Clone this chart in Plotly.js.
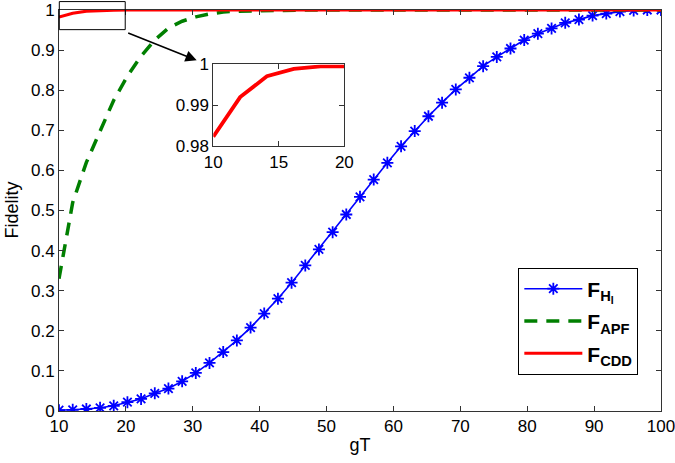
<!DOCTYPE html>
<html>
<head>
<meta charset="utf-8">
<script src="https://cdn.plot.ly/plotly-3.0.1.min.js"></script>
<style>html,body{margin:0;padding:0;background:#fff;}#chart{width:675px;height:463px;}</style>
</head>
<body>
<div id="chart"></div>
<script>
// gT grid (45 points from 10 to 100)
const gT = [10, 12.05, 14.09, 16.14, 18.18, 20.23, 22.27, 24.32, 26.36, 28.41,
  30.45, 32.5, 34.55, 36.59, 38.64, 40.68, 42.73, 44.77, 46.82, 48.86,
  50.91, 52.95, 55, 57.05, 59.09, 61.14, 63.18, 65.23, 67.27, 69.32,
  71.36, 73.41, 75.45, 77.5, 79.55, 81.59, 83.64, 85.68, 87.73, 89.77,
  91.82, 93.86, 95.91, 97.95, 100];

const F_HI = [0.002, 0.003, 0.005, 0.008, 0.013, 0.022, 0.030, 0.044, 0.056, 0.074,
  0.095, 0.12, 0.147, 0.176, 0.208, 0.243, 0.28, 0.32, 0.363, 0.403,
  0.446, 0.49, 0.534, 0.577, 0.619, 0.66, 0.698, 0.735, 0.769, 0.802,
  0.831, 0.86, 0.883, 0.904, 0.925, 0.941, 0.954, 0.968, 0.976, 0.986,
  0.991, 0.996, 0.999, 1.0, 1.0];

const F_APF = [0.33, 0.52, 0.62, 0.70, 0.775, 0.835, 0.885, 0.925, 0.955, 0.972,
  0.983, 0.99, 0.995, 0.997, 0.998, 0.999, 0.9995, 0.9998, 0.9999, 1,
  1, 1, 1, 1, 1, 1, 1, 1, 1, 1,
  1, 1, 1, 1, 1, 1, 1, 1, 1, 1,
  1, 1, 1, 1, 1];

const F_CDD = [0.9823, 0.992, 0.9971, 0.9989, 0.9995, 0.9998, 0.9999, 1, 1, 1,
  1, 1, 1, 1, 1, 1, 1, 1, 1, 1,
  1, 1, 1, 1, 1, 1, 1, 1, 1, 1,
  1, 1, 1, 1, 1, 1, 1, 1, 1, 1,
  1, 1, 1, 1, 1];

const xTicks = [10, 20, 30, 40, 50, 60, 70, 80, 90, 100];
const yTicks = [0, 0.1, 0.2, 0.3, 0.4, 0.5, 0.6, 0.7, 0.8, 0.9, 1];
const insetXTicks = [10, 15, 20];
const insetYTicks = [0.98, 0.99, 1];
const legendNames = ['<b>F<sub>H<sub>I</sub></sub></b>', '<b>F<sub>APF</sub></b>', '<b>F<sub>CDD</sub></b>'];
const xTitle = 'gT';
const yTitle = 'Fidelity';

const traces = [
  {x: gT, y: F_HI, name: legendNames[0], legendgroup: 'a', mode: 'lines+markers',
   line: {color: '#0000ff', width: 1.6},
   marker: {symbol: 'asterisk-open', size: 10, color: '#0000ff', line: {color: '#0000ff', width: 1.8}}},
  {x: gT, y: F_APF, name: legendNames[1], legendgroup: 'b', mode: 'lines',
   line: {color: '#007f00', width: 3.5, dash: '13px,9px'}},
  {x: gT, y: F_CDD, name: legendNames[2], legendgroup: 'c', mode: 'lines',
   line: {color: '#ff0000', width: 3}},
  {x: gT, y: F_CDD, mode: 'lines', xaxis: 'x2', yaxis: 'y2', showlegend: false,
   line: {color: '#ff0000', width: 3.8}}
];

const FONT = 'Liberation Sans, Arial, Helvetica, sans-serif';
const axisCommon = {
  showgrid: false, zeroline: false, showline: true, linecolor: '#333', linewidth: 1,
  mirror: 'ticks', ticks: 'inside', ticklen: 5, tickcolor: '#333',
  ticklabeloverflow: 'allow',
  tickfont: {family: FONT, size: 17, color: '#000'}
};

const layout = {
  width: 675, height: 463,
  margin: {l: 59, r: 14, t: 9.5, b: 51.5},
  paper_bgcolor: '#fff', plot_bgcolor: '#fff',
  font: {family: FONT, color: '#000'},
  showlegend: true,
  xaxis: Object.assign({}, axisCommon, {
    range: [10, 100], tickvals: xTicks, ticktext: xTicks.map(String),
    title: {text: xTitle, font: {size: 18}, standoff: 2}
  }),
  yaxis: Object.assign({}, axisCommon, {
    range: [0, 1], tickvals: yTicks, ticktext: yTicks.map(String)
  }),
  xaxis2: Object.assign({}, axisCommon, {
    domain: [0.2563, 0.474], anchor: 'y2', range: [10, 20],
    tickvals: insetXTicks, ticktext: insetXTicks.map(String)
  }),
  yaxis2: Object.assign({}, axisCommon, {
    domain: [0.6604, 0.8644], anchor: 'x2', range: [0.98, 1],
    tickvals: insetYTicks, ticktext: insetYTicks.map(String)
  }),
  legend: {
    x: 0.763, y: 0.3577, xanchor: 'left', yanchor: 'top',
    bgcolor: '#fff', bordercolor: '#000', borderwidth: 1,
    font: {size: 21, color: '#000'}, tracegroupgap: 2, itemwidth: 58
  },
  shapes: [
    {type: 'rect', xref: 'paper', yref: 'paper', x0: 0.0005, x1: 0.110, y0: 0.951, y1: 1.021,
     line: {color: '#000', width: 1}, fillcolor: 'rgba(0,0,0,0)'}
  ],
  annotations: [
    {xref: 'paper', yref: 'paper', x: 0.2287, y: 0.8744, ax: -70, ay: -28,
     text: '', showarrow: true, arrowhead: 2, arrowsize: 1.4, arrowwidth: 1.6, arrowcolor: '#000'},
    {xref: 'paper', yref: 'paper', x: -0.0797, y: 0.5, xanchor: 'center', yanchor: 'middle',
     text: yTitle, textangle: -90, showarrow: false, font: {size: 18, family: FONT, color: '#000'}}
  ]
};

Plotly.newPlot('chart', traces, layout, {displayModeBar: false, staticPlot: true});
</script>
</body>
</html>
